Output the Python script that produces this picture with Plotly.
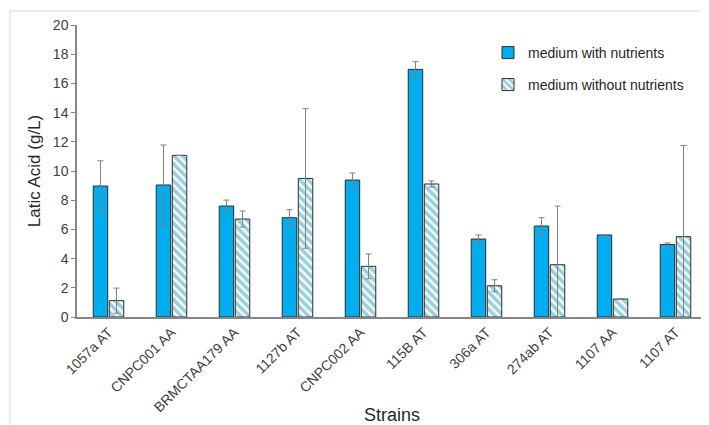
import plotly.graph_objects as go

strains = ["1057a AT", "CNPC001 AA", "BRMCTAA179 AA", "1127b AT", "CNPC002 AA",
           "115B AT", "306a AT", "274ab AT", "1107 AA", "1107 AT"]
with_nutrients = [8.97, 9.04, 7.6, 6.8, 9.38, 16.96, 5.34, 6.23, 5.62, 4.97]
with_err = [1.73, 2.74, 0.41, 0.55, 0.48, 0.53, 0.28, 0.57, 0.0, 0.1]
without_nutrients = [1.12, 11.07, 6.71, 9.49, 3.47, 9.11, 2.14, 3.58, 1.23, 5.5]
without_err = [0.86, 0.0, 0.55, 4.78, 0.85, 0.21, 0.41, 4.02, 0.0, 6.25]

# page body has an 8px margin; work in absolute window pixels
OFF = 8
W, H = 709 - OFF, 425 - OFF
PLOT_L, PLOT_R, PLOT_T, PLOT_B = 77, 707, 25, 317
ML, MT = PLOT_L - OFF, PLOT_T - OFF
MR = (OFF + W) - PLOT_R
MB = (OFF + H) - PLOT_B
PW, PH = PLOT_R - PLOT_L, PLOT_B - PLOT_T

def px_x(a):
    return (a - PLOT_L) / PW

def px_y(a):
    return 1 - (a - PLOT_T) / PH

fig = go.Figure()
fig.add_trace(go.Bar(
    x=strains, y=with_nutrients, name="medium with nutrients",
    marker=dict(color="#00AEEF", line=dict(color="#2b2b2b", width=1)),
    error_y=dict(type="data", array=with_err, visible=True,
                 color="#7f7f7f", thickness=1, width=3),
    legend="legend",
))
fig.add_trace(go.Bar(
    x=strains, y=without_nutrients, name="medium without nutrients",
    marker=dict(color="white", line=dict(color="#2b2b2b", width=1),
                pattern=dict(shape="\\", fgcolor="#2FA0C0", bgcolor="white",
                             size=6, solidity=0.6, fillmode="overlay")),
    error_y=dict(type="data", array=without_err, visible=True,
                 color="#7f7f7f", thickness=1, width=3),
    legend="legend2",
))

font = "Liberation Sans, Arial, sans-serif"
fig.update_layout(
    width=W, height=H,
    margin=dict(l=ML, r=MR, t=MT, b=MB, autoexpand=False),
    paper_bgcolor="white", plot_bgcolor="white",
    font=dict(family=font, color="#404040", size=13),
    barmode="group", bargap=0.49, bargroupgap=0.1,
    showlegend=True,
    legend=dict(x=px_x(488), y=px_y(37), xanchor="left", yanchor="top",
                bgcolor="rgba(0,0,0,0)", font=dict(size=14, color="#262626"),
                itemwidth=30),
    legend2=dict(x=px_x(488), y=px_y(69), xanchor="left", yanchor="top",
                 bgcolor="rgba(0,0,0,0)", font=dict(size=14, color="#262626"),
                 itemwidth=30),
    xaxis=dict(
        showline=True, linecolor="#868686", linewidth=1.5,
        ticks="", tickangle=-45, tickfont=dict(size=14, color="#404040"),
        automargin=False,
        title=dict(text="Strains", font=dict(size=18, color="#262626"), standoff=4),
    ),
    yaxis=dict(
        range=[0, 20], dtick=2, showgrid=False, zeroline=False,
        showline=True, linecolor="#868686", linewidth=1.5,
        ticks="outside", ticklen=4, tickcolor="#868686",
        tickfont=dict(size=14, color="#404040"), automargin=False,
        title=dict(text="Latic Acid (g/L)", font=dict(size=17, color="#262626"), standoff=8),
    ),
    shapes=[dict(type="rect", xref="paper", yref="paper",
                 x0=px_x(10), x1=px_x(760), y0=px_y(500), y1=px_y(11),
                 line=dict(color="#d9d9d9", width=1), layer="below")],
)

fig.write_html("out.html")
